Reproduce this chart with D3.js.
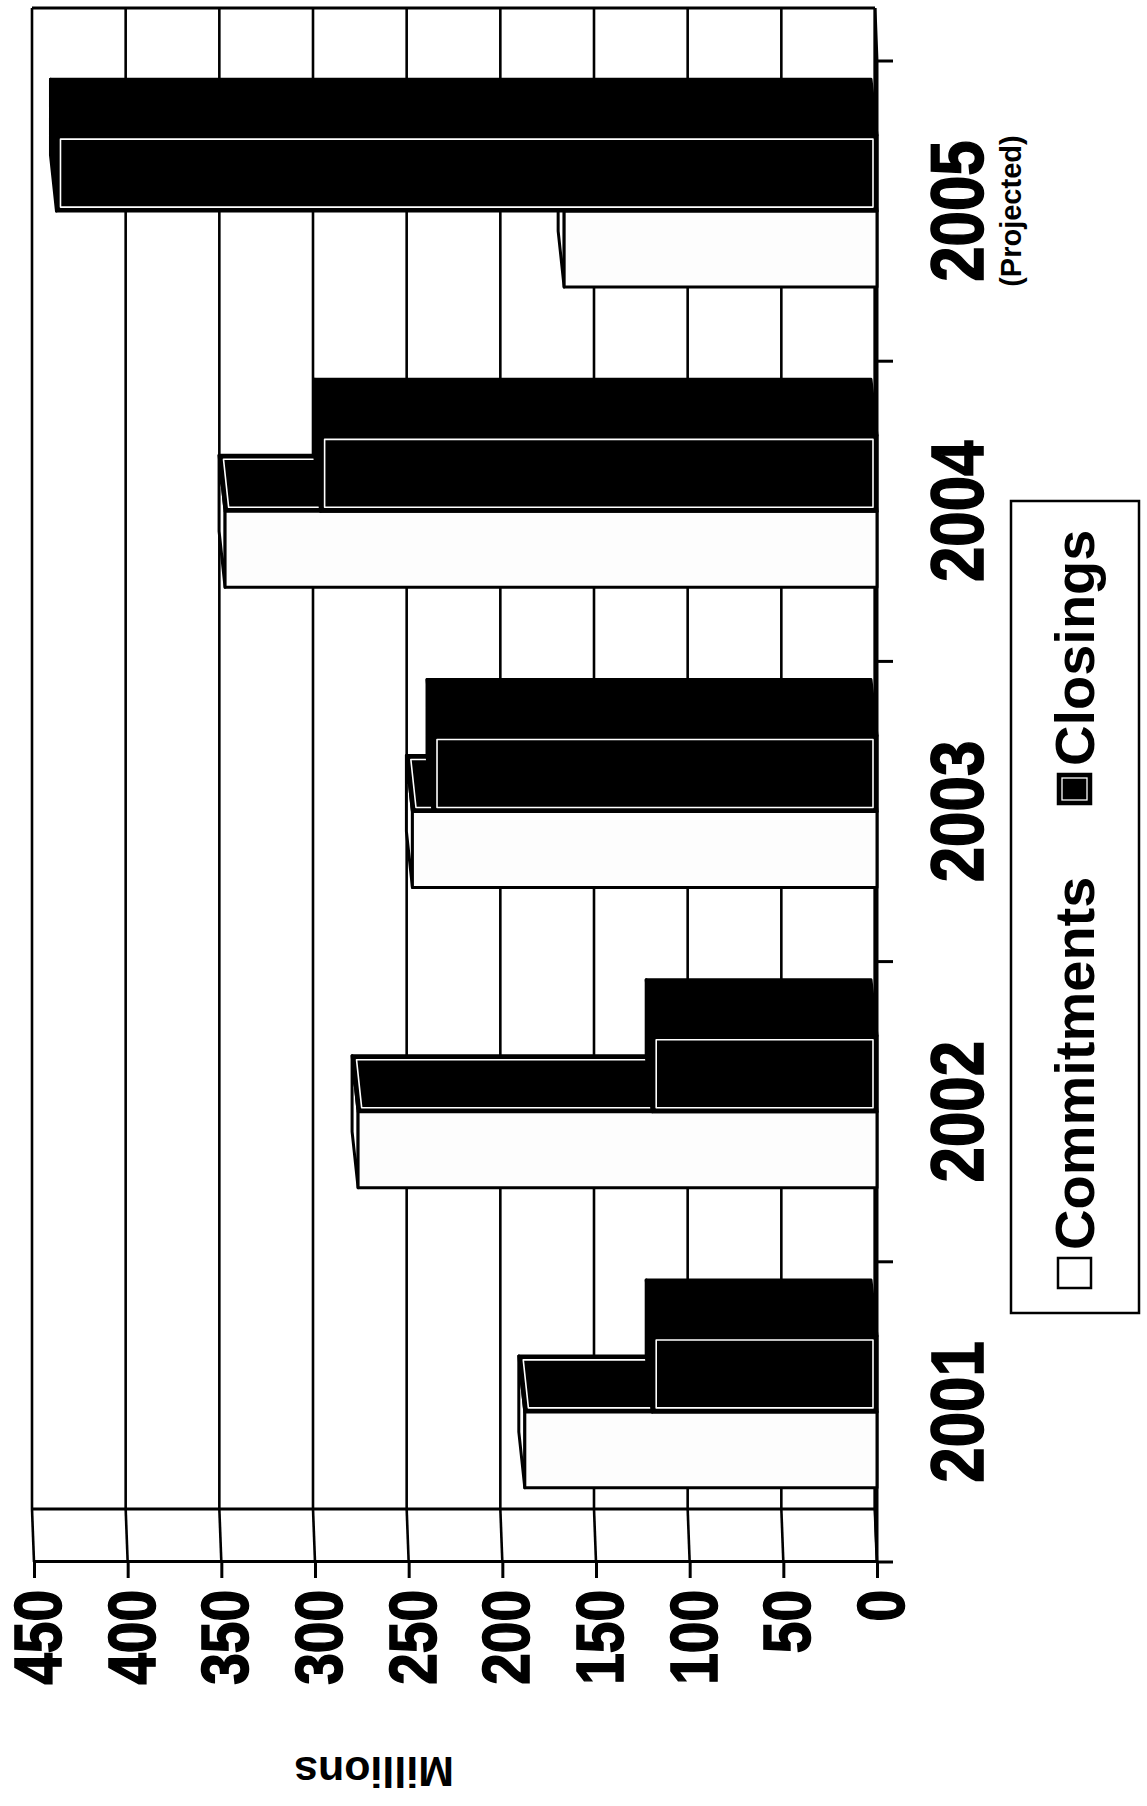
<!DOCTYPE html>
<html><head><meta charset="utf-8">
<script src="https://cdn.jsdelivr.net/npm/d3@7"></script>
<style>html,body{margin:0;padding:0;background:#fff;} svg{display:block;}</style>
</head><body>
<svg id="chart" width="1147" height="1806"></svg>
<script>
const years = ["2001","2002","2003","2004","2005"];
const yearNotes = ["","","","","(Projected)"];
const seriesNames = ["Commitments","Closings"];
const commitments = [188,277,248,348,167];
const closings = [120,120,237,297,438];
const valueTicks = [0,50,100,150,200,250,300,350,400,450];
const axisTitle = "Millions";

const W = 1147, H = 1806;
const FONT = "'Liberation Sans', Arial, Helvetica, sans-serif";
const svg = d3.select("#chart");
svg.append("rect").attr("width",W).attr("height",H).attr("fill","#fff");
// chart is drawn in landscape and turned a quarter turn counter-clockwise
const g = svg.append("g").attr("transform",`translate(0,${H}) rotate(-90)`);

const x = d3.scaleBand().domain(years).range([244,1745]);
const y = d3.scaleLinear().domain([0,450]).range([877,34]);
const X0 = x.range()[0], X1 = x.range()[1];
const WD = 53, WE = 2;   // wall depth offset
const BD = 56, BE = 6;   // bar depth offset
const barW = x.bandwidth()*0.253;
const off = (x.bandwidth()-2*barW)/2;
const line = d3.line();

// back wall
g.append("rect").attr("x",X0+WD).attr("y",y(450)-WE)
  .attr("width",X1-X0).attr("height",y(0)-y(450)).attr("fill","#fff");
// side wall
g.append("path").attr("d",line([[X0,y(450)],[X0+WD,y(450)-WE],[X0+WD,y(0)-WE],[X0,y(0)]])+"Z")
  .attr("fill","#fff");

// gridlines on back wall and side wall
const grid = g.append("g").attr("stroke","#000").attr("stroke-width",2.6).attr("fill","none");
valueTicks.forEach(v=>{
  grid.append("path").attr("d",line([[X0+WD,y(v)-WE],[X1+WD,y(v)-WE]]));
  grid.append("path").attr("d",line([[X0,y(v)],[X0+WD,y(v)-WE]]));
});
// wall edges
const frame = g.append("g").attr("stroke","#000").attr("stroke-width",3).attr("fill","none");
frame.append("path").attr("d",line([[X0+WD,y(450)-WE],[X0+WD,y(0)-WE]]));
frame.append("path").attr("d",line([[X1+WD,y(450)-WE],[X1+WD,y(0)-WE]]));
frame.append("path").attr("d",line([[X0,y(0)],[X1,y(0)],[X1+WD,y(0)-WE],[X0+WD,y(0)-WE]])+"Z");

// category boundary ticks
const bounds = years.map(d=>x(d)).concat([X1]);
const ct = g.append("g").attr("stroke","#000").attr("stroke-width",3);
bounds.forEach(b=>{
  ct.append("line").attr("x1",b).attr("x2",b).attr("y1",y(0)).attr("y2",y(0)+16);
});

// bars
function inset(p, d){
  const [a,b,c,e] = p;
  const lerp=(p1,p2,t)=>[p1[0]+(p2[0]-p1[0])*t, p1[1]+(p2[1]-p1[1])*t];
  const wTop = b[0]-a[0];
  const t = d/wTop;
  const a2 = lerp(a,b,t), b2 = lerp(a,b,1-t), e2 = lerp(e,c,t), c2 = lerp(e,c,1-t);
  return [[a2[0],a2[1]+d],[b2[0],b2[1]+d],[c2[0],c2[1]-d],[e2[0],e2[1]-d]];
}
const barsG = g.append("g").attr("stroke-linejoin","round");
years.forEach((yr,i)=>{
  [commitments[i], closings[i]].forEach((v,s)=>{
    const bx = x(yr)+off+s*barW, yt = y(v), yb = y(0);
    const dark = s===1;
    const top = [[bx,yt],[bx+barW,yt],[bx+barW+BD,yt-BE],[bx+BD,yt-BE]];
    const side = [[bx+barW,yt],[bx+barW+BD,yt-BE],[bx+barW+BD,yb-BE],[bx+barW,yb]];
    barsG.append("path").attr("d",line(top)+"Z")
      .attr("fill",dark?"#000":"#fff").attr("stroke","#000").attr("stroke-width",3);
    barsG.append("path").attr("d",line(side)+"Z")
      .attr("fill","#000").attr("stroke","#000").attr("stroke-width",3);
    if(!dark){
      barsG.append("path").attr("d",line(inset(side,4))+"Z")
        .attr("fill","none").attr("stroke","#fff").attr("stroke-width",1.6);
    }
    barsG.append("rect").attr("x",bx).attr("y",yt).attr("width",barW).attr("height",yb-yt)
      .attr("fill",dark?"#000":"#fdfdfd").attr("stroke","#000").attr("stroke-width",3);
    if(dark){
      barsG.append("rect").attr("x",bx+4).attr("y",yt+4).attr("width",barW-8).attr("height",Math.max(0,yb-yt-8))
        .attr("fill","none").attr("stroke","#fff").attr("stroke-width",1.6);
    }
  });
});

// value axis
const ax = g.append("g").attr("transform",`translate(${X0},0)`)
  .call(d3.axisLeft(y).tickValues(valueTicks).tickSizeInner(16).tickSizeOuter(0).tickPadding(12));
ax.select(".domain").attr("stroke","#000").attr("stroke-width",3);
ax.selectAll(".tick line").attr("stroke","#000").attr("stroke-width",3);
ax.selectAll(".tick text")
  .attr("x",null).attr("dy","0.4em")
  .attr("transform","translate(-28,0) scale(0.86,1)")
  .attr("font-family",FONT).attr("font-weight","bold").attr("font-size",66)
  .attr("fill","#000").attr("stroke","#000").attr("stroke-width",1.6);

// category labels
years.forEach((yr,i)=>{
  const cx = x(yr)+x.bandwidth()/2;
  g.append("text").attr("transform",`translate(${cx},983) scale(0.86,1)`)
    .attr("text-anchor","middle").attr("font-family",FONT).attr("font-weight","bold")
    .attr("font-size",74).attr("fill","#000").attr("stroke","#000").attr("stroke-width",1.6)
    .text(yr);
  if(yearNotes[i]){
    g.append("text").attr("x",cx).attr("y",1021).attr("text-anchor","middle")
      .attr("font-family",FONT).attr("font-weight","bold").attr("font-size",29).attr("fill","#000")
      .text(yearNotes[i]);
  }
});

// axis title
g.append("text").attr("transform","translate(49,374) rotate(-90)")
  .attr("text-anchor","middle").attr("font-family",FONT).attr("font-weight","bold")
  .attr("font-size",43).attr("fill","#000").text(axisTitle);

// legend
const lg = g.append("g");
lg.append("rect").attr("x",493).attr("y",1011).attr("width",812).attr("height",128)
  .attr("fill","#fff").attr("stroke","#000").attr("stroke-width",2.5);
const legX = [518, 1002];
seriesNames.forEach((nm,s)=>{
  lg.append("rect").attr("x",legX[s]).attr("y",1058).attr("width",30).attr("height",33)
    .attr("fill",s?"#000":"#fff").attr("stroke","#000").attr("stroke-width",2.5);
  if(s){
    lg.append("rect").attr("x",legX[s]+4).attr("y",1062).attr("width",22).attr("height",25)
      .attr("fill","none").attr("stroke","#fff").attr("stroke-width",1.3);
  }
  lg.append("text").attr("x",legX[s]+38).attr("y",1094).attr("font-family",FONT)
    .attr("font-weight","bold").attr("font-size",56).attr("fill","#000").text(nm);
});
</script>
</body></html>
